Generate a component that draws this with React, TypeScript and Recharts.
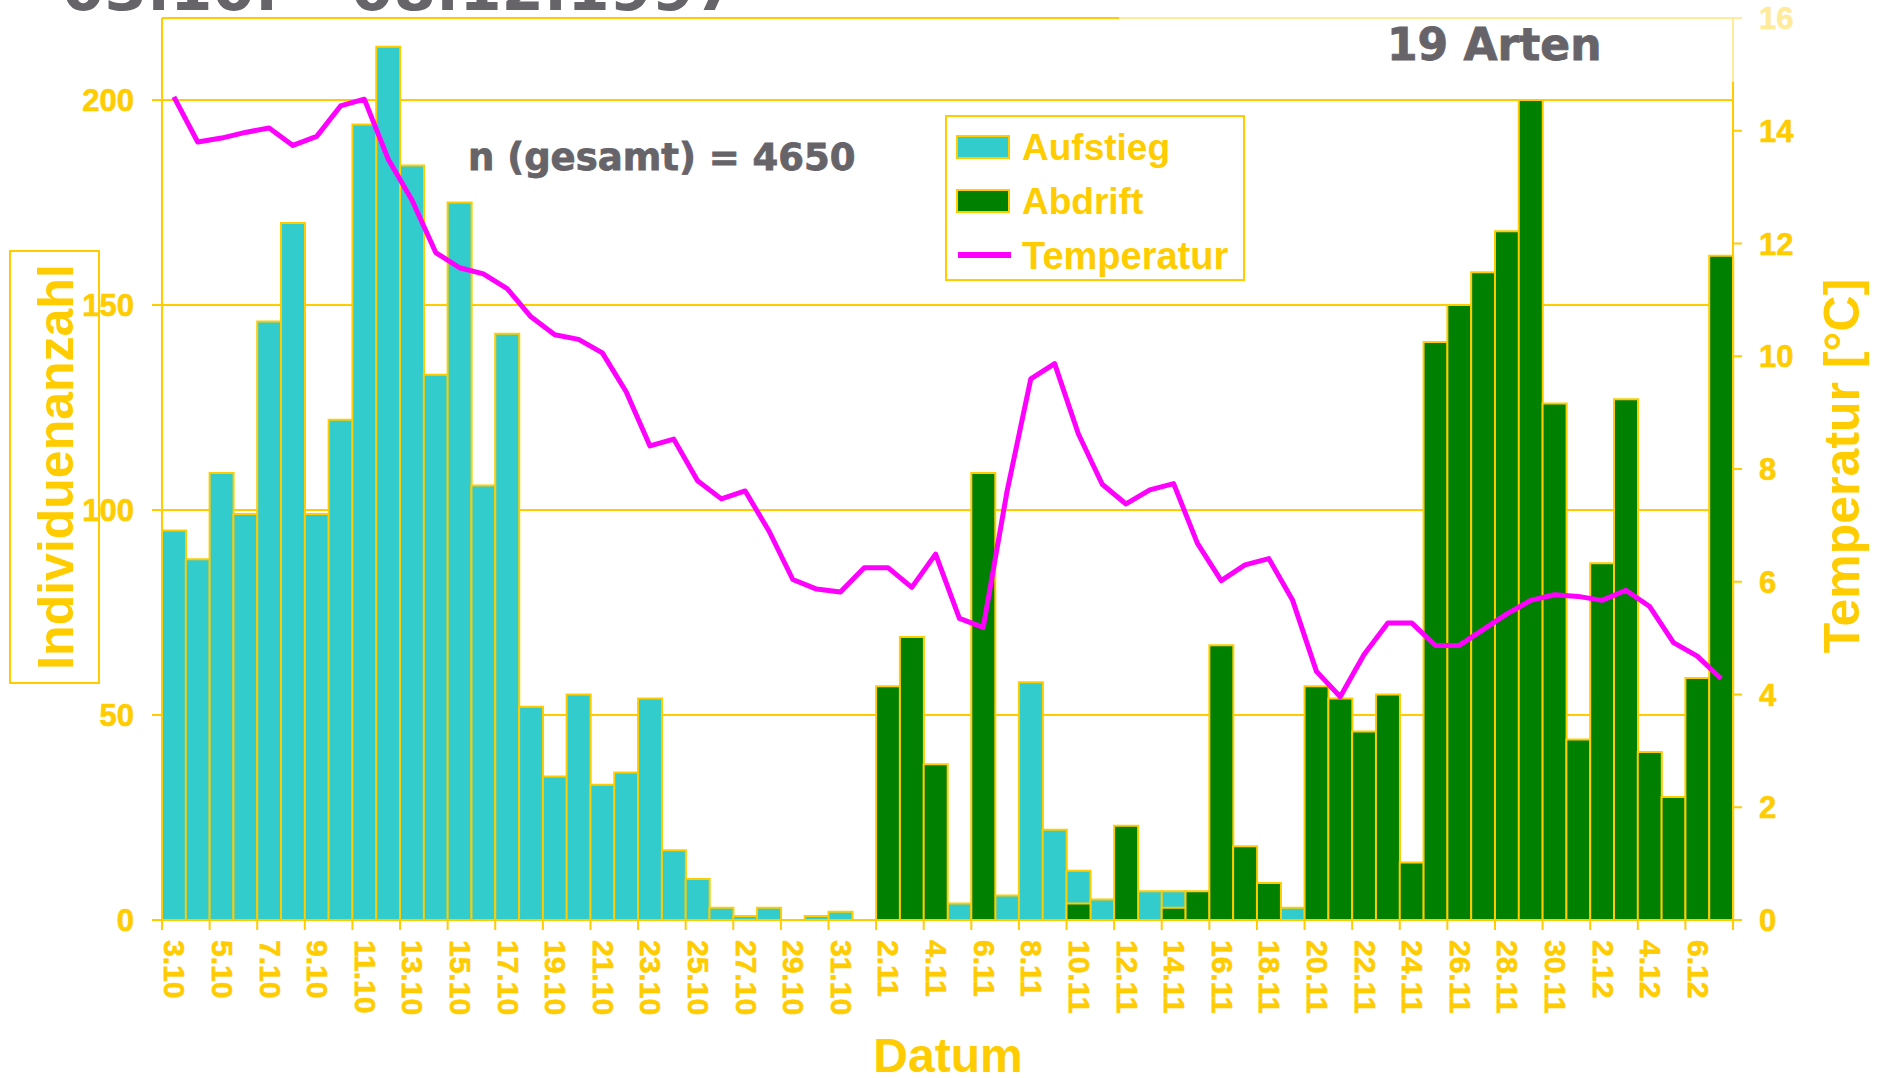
import React from "react";
import { ComposedChart, Bar, Line, XAxis, YAxis, CartesianGrid, ReferenceLine } from "recharts";

const DATES = [
  "3.10", "4.10", "5.10", "6.10", "7.10", "8.10", "9.10", "10.10", "11.10", "12.10",
  "13.10", "14.10", "15.10", "16.10", "17.10", "18.10", "19.10", "20.10", "21.10", "22.10",
  "23.10", "24.10", "25.10", "26.10", "27.10", "28.10", "29.10", "30.10", "31.10", "1.11",
  "2.11", "3.11", "4.11", "5.11", "6.11", "7.11", "8.11", "9.11", "10.11", "11.11",
  "12.11", "13.11", "14.11", "15.11", "16.11", "17.11", "18.11", "19.11", "20.11", "21.11",
  "22.11", "23.11", "24.11", "25.11", "26.11", "27.11", "28.11", "29.11", "30.11", "1.12",
  "2.12", "3.12", "4.12", "5.12", "6.12", "7.12",
];

const AUFSTIEG = [
  95, 88, 109, 99, 146, 170, 99, 122, 194, 213,
  184, 133, 175, 106, 143, 52, 35, 55, 33, 36,
  54, 17, 10, 3, 1, 3, 0, 1, 2, 0,
  0, 0, 0, 4, 0, 6, 58, 22, 12, 5,
  0, 7, 7, 0, 0, 0, 0, 3, 0, 0,
  0, 0, 0, 0, 0, 0, 0, 0, 0, 0,
  0, 0, 0, 0, 0, 0,
];

const ABDRIFT = [
  0, 0, 0, 0, 0, 0, 0, 0, 0, 0,
  0, 0, 0, 0, 0, 0, 0, 0, 0, 0,
  0, 0, 0, 0, 0, 0, 0, 0, 0, 0,
  57, 69, 38, 0, 109, 0, 0, 0, 4, 0,
  23, 0, 3, 7, 67, 18, 9, 0, 57, 54,
  46, 55, 14, 141, 150, 158, 168, 200, 126, 44,
  87, 127, 41, 30, 59, 162,
];

const TEMPERATUR = [
  14.6, 13.8, 13.87, 13.97, 14.05, 13.74, 13.9, 14.44, 14.56, 13.5,
  12.77, 11.84, 11.57, 11.46, 11.2, 10.7, 10.38, 10.3, 10.06, 9.37,
  8.41, 8.53, 7.79, 7.47, 7.61, 6.9, 6.04, 5.87, 5.82, 6.25,
  6.25, 5.9, 6.49, 5.35, 5.19, 7.6, 9.6, 9.87, 8.62, 7.73,
  7.38, 7.63, 7.74, 6.68, 6.02, 6.3, 6.41, 5.67, 4.41, 3.96,
  4.71, 5.27, 5.27, 4.87, 4.87, 5.15, 5.43, 5.67, 5.77, 5.74,
  5.67, 5.85, 5.56, 4.92, 4.68, 4.28,
];

const LEFT_TICKS = [0, 50, 100, 150, 200];
const RIGHT_TICKS = [0, 2, 4, 6, 8, 10, 12, 14, 16];

const YEL = "#FFCC00";
const CYAN = "#33CCCC";
const GREEN = "#008000";
const MAGENTA = "#FF00FF";
const GRAY = "#666369";
const FONT = "'Liberation Sans', Arial, sans-serif";
const HEAVY = "'DejaVu Sans', sans-serif";

const W = 1881;
const H = 1078;
const PLOT_LEFT = 162;
const PLOT_RIGHT = 1733;
const BAND = (PLOT_RIGHT - PLOT_LEFT) / DATES.length;

const data = DATES.map((d, i) => ({
  datum: d,
  aufstieg: AUFSTIEG[i],
  abdrift: ABDRIFT[i],
  temp: TEMPERATUR[i],
}));

const XTick = (props: any) => {
  const { x, y, payload, index } = props;
  const half = BAND / 2;
  if (index === DATES.length - 1) {
    return <line x1={x + half} x2={x + half} y1={y} y2={y + 10} stroke={YEL} strokeWidth={2} />;
  }
  if (index % 2 === 1) return <g />;
  return (
    <g>
      <line x1={x - half} x2={x - half} y1={y} y2={y + 10} stroke={YEL} strokeWidth={2} />
      <text
        transform={`translate(${x + 1},${y + 20}) rotate(90)`}
        textAnchor="start"
        dominantBaseline="central"
        fill={YEL}
        stroke={YEL}
        strokeWidth={0.6}
        fontFamily={FONT}
        fontWeight="bold"
        fontSize={30}
      >
        {payload.value}
      </text>
    </g>
  );
};

export default function App() {
  return (
    <div style={{ position: "absolute", left: 0, top: 0, width: W, height: H, overflow: "hidden", background: "#fff" }}>
      <ComposedChart
        width={W}
        height={H}
        data={data}
        margin={{ top: 18, right: W - PLOT_RIGHT - 80, bottom: 98, left: PLOT_LEFT - 80 }}
        barCategoryGap={0}
        barGap={0}
      >
        <CartesianGrid vertical={false} stroke={YEL} strokeWidth={2} yAxisId="left" horizontalValues={LEFT_TICKS} />
        <XAxis
          xAxisId="a"
          dataKey="datum"
          interval={0}
          height={60}
          tickSize={0}
          tickMargin={0}
          tickLine={false}
          axisLine={{ stroke: YEL, strokeWidth: 2 }}
          tick={<XTick />}
        />
        <XAxis xAxisId="b" dataKey="datum" hide />
        <YAxis
          yAxisId="left"
          width={80}
          domain={[0, 220]}
          ticks={LEFT_TICKS}
          tickSize={10}
          tickMargin={18}
          axisLine={{ stroke: YEL, strokeWidth: 2 }}
          tickLine={{ stroke: YEL, strokeWidth: 2 }}
          tick={{ fill: YEL, stroke: YEL, strokeWidth: 0.6, fontFamily: FONT, fontWeight: "bold", fontSize: 31 }}
        />
        <YAxis
          yAxisId="right"
          orientation="right"
          width={80}
          domain={[0, 16]}
          ticks={RIGHT_TICKS}
          tickSize={9}
          tickMargin={17}
          axisLine={{ stroke: YEL, strokeWidth: 2 }}
          tickLine={{ stroke: YEL, strokeWidth: 2 }}
          tick={{ fill: YEL, stroke: YEL, strokeWidth: 0.6, fontFamily: FONT, fontWeight: "bold", fontSize: 31, textAnchor: "start" }}
        />
        <ReferenceLine yAxisId="left" xAxisId="a" y={220} stroke={YEL} strokeWidth={2} />
        <Bar
          xAxisId="a"
          yAxisId="left"
          dataKey="aufstieg"
          name="Aufstieg"
          fill={CYAN}
          stroke={YEL}
          strokeWidth={2}
          isAnimationActive={false}
        />
        <Bar
          xAxisId="b"
          yAxisId="left"
          dataKey="abdrift"
          name="Abdrift"
          fill={GREEN}
          stroke={YEL}
          strokeWidth={2}
          isAnimationActive={false}
        />
        <Line
          xAxisId="a"
          yAxisId="right"
          dataKey="temp"
          name="Temperatur"
          type="linear"
          stroke={MAGENTA}
          strokeWidth={5}
          strokeLinejoin="round"
          dot={false}
          activeDot={false}
          isAnimationActive={false}
        />
      </ComposedChart>

      <svg
        width={W}
        height={H}
        style={{ position: "absolute", left: 0, top: 0, pointerEvents: "none" }}
      >
        <text x={62} y={10} fill={GRAY} fontFamily={HEAVY} fontWeight="bold" fontSize={61}>
          03.10. – 08.12.1997
        </text>

        <rect x={1119} y={0} width={762} height={82} fill="#fff" opacity={0.6} />
        <text x={1387} y={60} fill={GRAY} stroke={GRAY} strokeWidth={0.8} fontFamily={HEAVY} fontWeight="bold" fontSize={44}>
          19 Arten
        </text>

        <text x={468} y={170} fill={GRAY} stroke={GRAY} strokeWidth={0.8} fontFamily={HEAVY} fontWeight="bold" fontSize={37}>
          n (gesamt) = 4650
        </text>

        <rect x={10} y={251} width={89} height={432} fill="none" stroke={YEL} strokeWidth={2} />
        <text
          transform="translate(73,467) rotate(-90)"
          textAnchor="middle"
          fill={YEL}
          fontFamily={FONT}
          fontWeight="bold"
          fontSize={50}
        >
          Individuenanzahl
        </text>

        <text
          transform="translate(1859,466) rotate(-90)"
          textAnchor="middle"
          fill={YEL}
          fontFamily={FONT}
          fontWeight="bold"
          fontSize={50}
        >
          Temperatur [°C]
        </text>

        <text x={948} y={1072} textAnchor="middle" fill={YEL} fontFamily={FONT} fontWeight="bold" fontSize={48}>
          Datum
        </text>

        <rect x={946} y={116} width={298} height={164} fill="#fff" stroke={YEL} strokeWidth={2} />
        <rect x={957} y={136} width={52} height={22} fill={CYAN} stroke={YEL} strokeWidth={2} />
        <text x={1022} y={160} fill={YEL} fontFamily={FONT} fontWeight="bold" fontSize={37}>
          Aufstieg
        </text>
        <rect x={957} y={190} width={52} height={22} fill={GREEN} stroke={YEL} strokeWidth={2} />
        <text x={1022} y={214} fill={YEL} fontFamily={FONT} fontWeight="bold" fontSize={37}>
          Abdrift
        </text>
        <line x1={958} x2={1011} y1={255} y2={255} stroke={MAGENTA} strokeWidth={6} />
        <text x={1022} y={269} fill={YEL} fontFamily={FONT} fontWeight="bold" fontSize={38}>
          Temperatur
        </text>
      </svg>
    </div>
  );
}
